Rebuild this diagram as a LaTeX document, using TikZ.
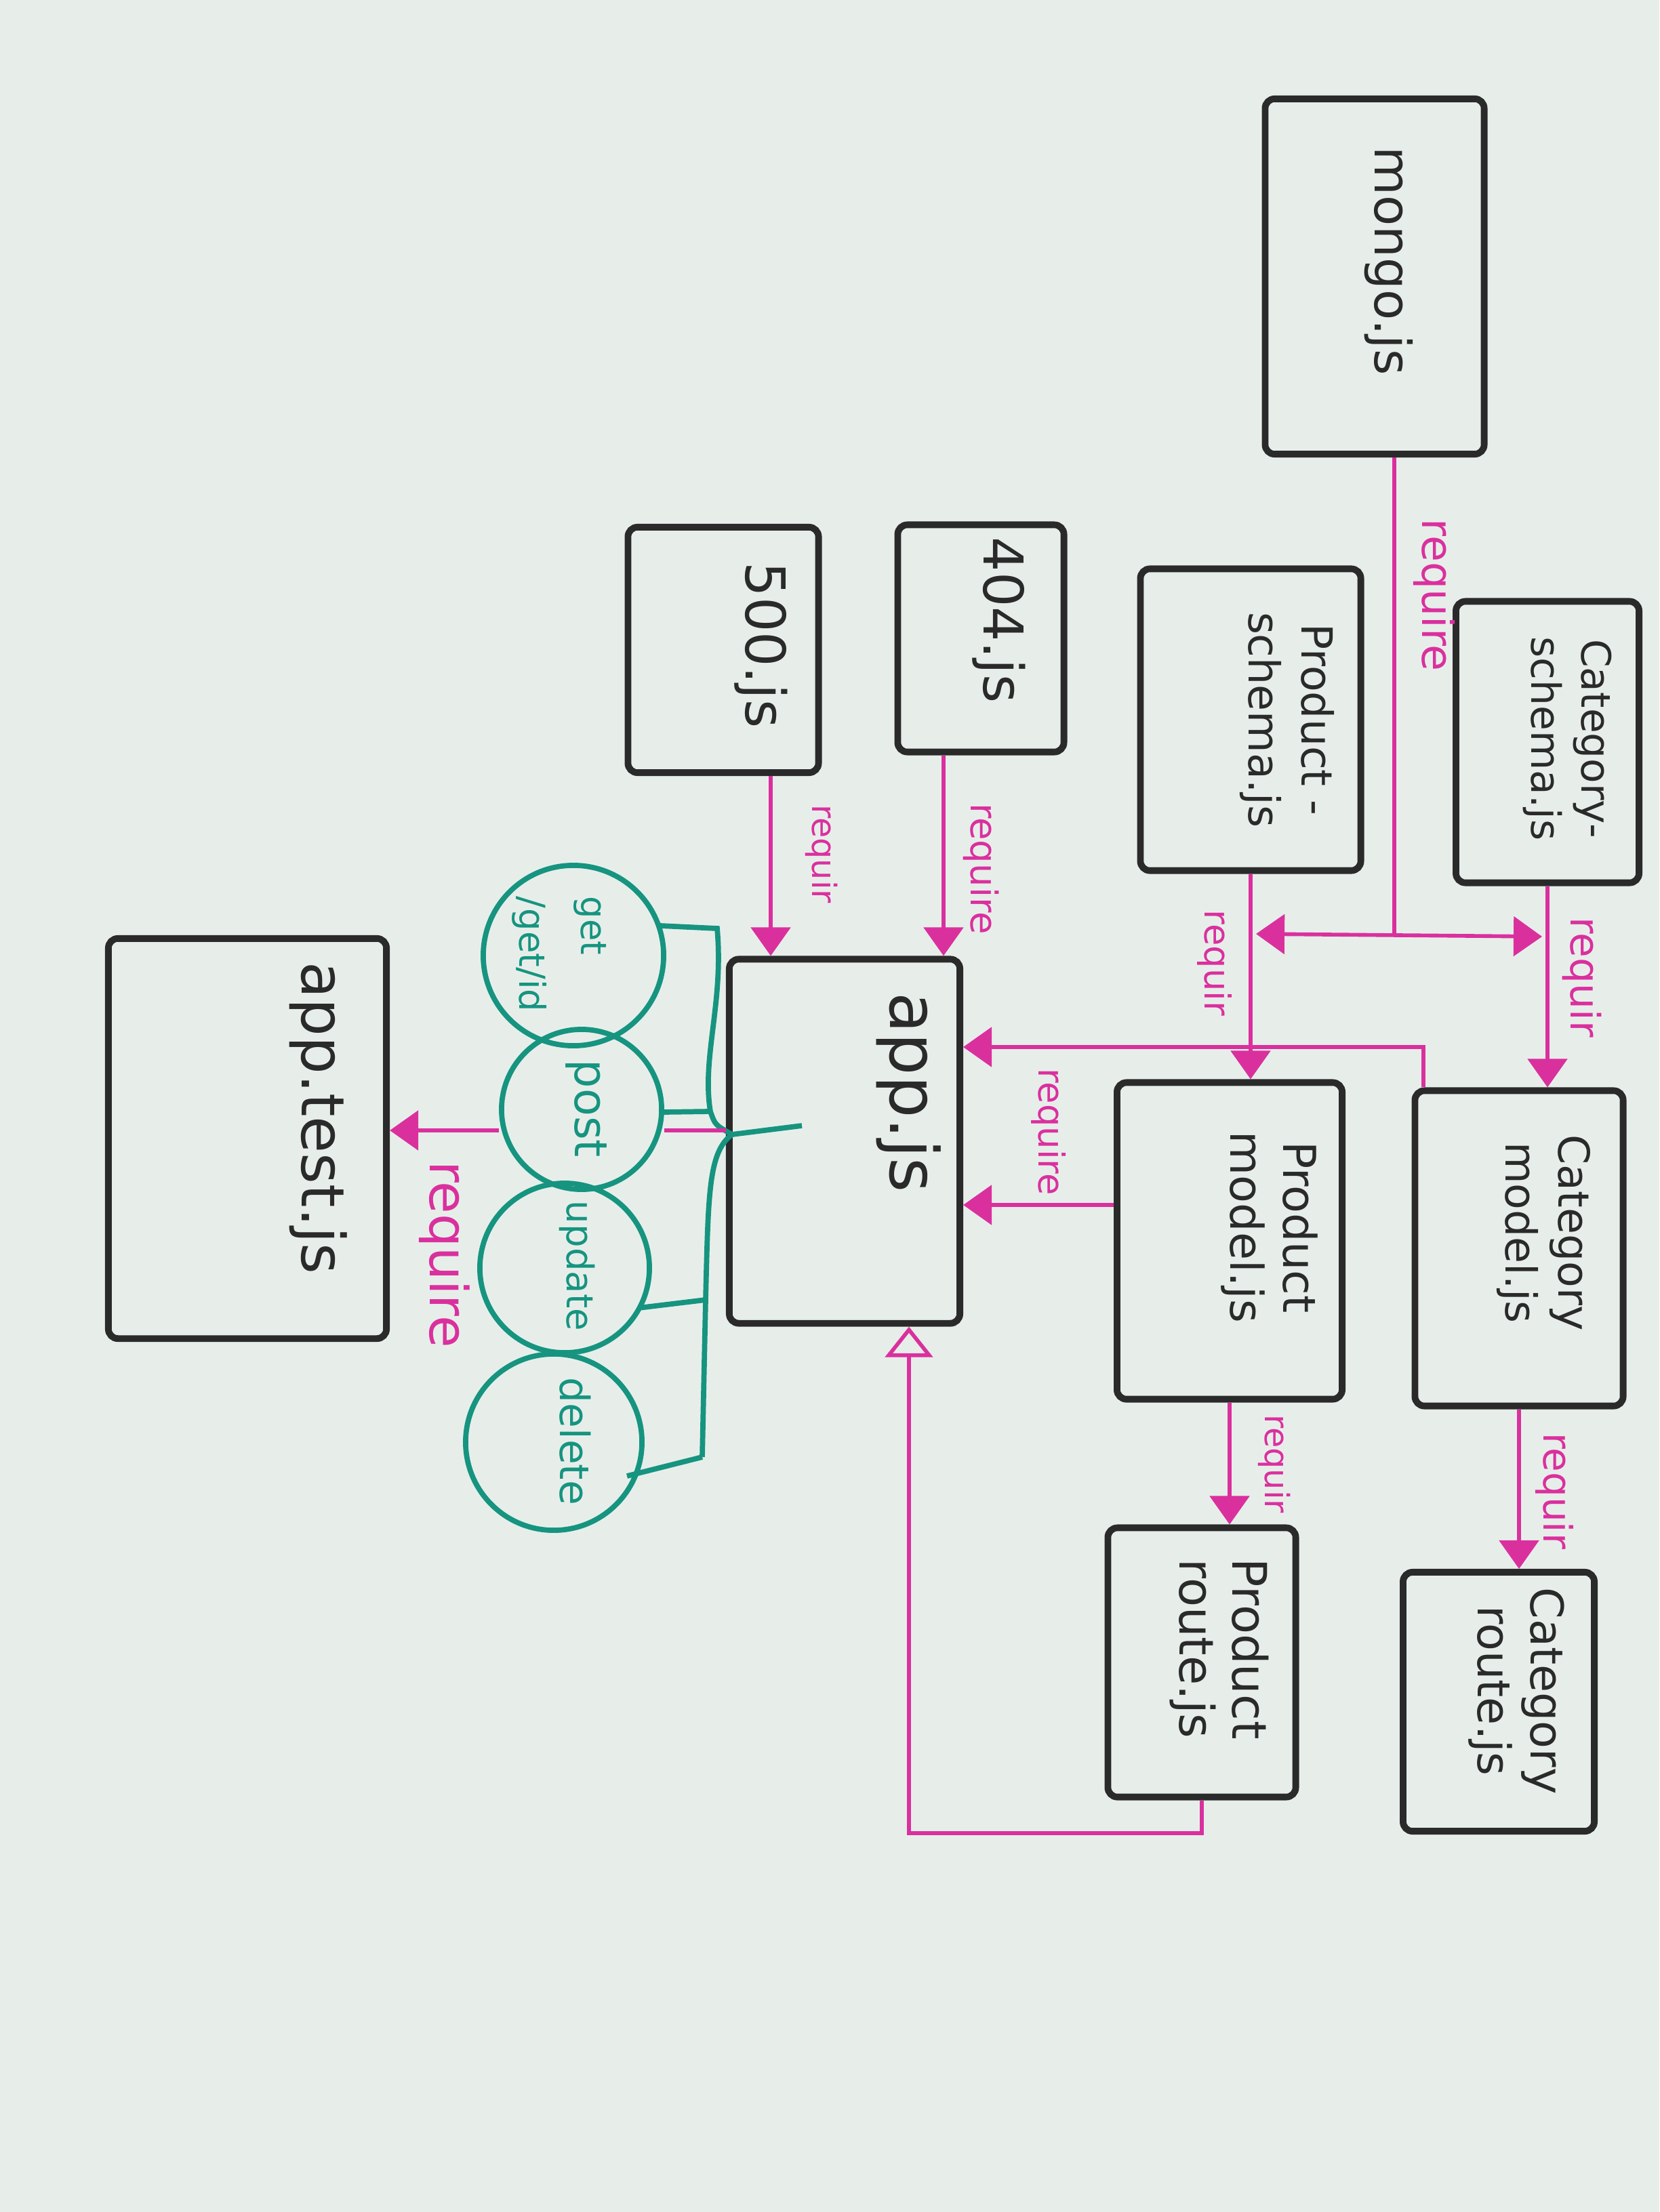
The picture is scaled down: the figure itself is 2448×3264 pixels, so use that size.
\documentclass[tikz,border=0pt]{standalone}
\usepackage{fontspec}
\setmainfont{DejaVu Sans}
\usetikzlibrary{arrows.meta}
\definecolor{ink}{RGB}{42,42,42}
\definecolor{mag}{RGB}{218,48,158}
\definecolor{tealink}{RGB}{22,148,128}
\definecolor{paper}{RGB}{231,238,234}
\newcommand{\rottext}[1]{\rotatebox{-90}{\begin{tabular}{@{}c@{}}#1\end{tabular}}}
\newcommand{\rottextl}[1]{\rotatebox{-90}{\begin{tabular}{@{}l@{}}#1\end{tabular}}}
\tikzset{
  filebox/.style={draw=ink, line width=2.8pt, rounded corners=4pt, inner sep=0pt},
  filetxt/.style={text=ink, inner sep=0pt},
  reqtxt/.style={text=mag, inner sep=0pt},
  reqline/.style={draw=mag, line width=1.6pt},
  reqarrow/.style={reqline, -{Triangle[length=0.42cm,width=0.58cm]}},
  reqopen/.style={reqline, -{Triangle[open,length=0.45cm,width=0.7cm,line width=1.6pt]}},
  bubble/.style={draw=tealink, line width=2.2pt, circle, inner sep=0pt},
  bubtxt/.style={text=tealink, inner sep=0pt},
  wire/.style={draw=tealink, line width=2.2pt},
}
\begin{document}
\begin{tikzpicture}[x=0.01cm,y=-0.01cm]
\fill[paper] (0,0) rectangle (2448,3264);
\useasboundingbox (0,0) rectangle (2448,3264);

% file boxes
\node[filebox, minimum width=3.23cm, minimum height=5.24cm] (mongo) at (2028,408) {};
\node[filebox, minimum width=2.70cm, minimum height=4.15cm] (catschema) at (2283,1095) {};
\node[filebox, minimum width=3.25cm, minimum height=4.45cm] (prodschema) at (1845,1062) {};
\node[filebox, minimum width=2.45cm, minimum height=3.35cm] (e404) at (1447,942) {};
\node[filebox, minimum width=2.81cm, minimum height=3.62cm] (e500) at (1067,959) {};
\node[filebox, minimum width=3.40cm, minimum height=5.37cm] (app) at (1246,1684) {};
\node[filebox, minimum width=3.32cm, minimum height=4.67cm] (prodmodel) at (1814,1831) {};
\node[filebox, minimum width=3.07cm, minimum height=4.65cm] (catmodel) at (2241,1842) {};
\node[filebox, minimum width=2.77cm, minimum height=3.97cm] (prodroute) at (1773,2453) {};
\node[filebox, minimum width=2.82cm, minimum height=3.82cm] (catroute) at (2211,2511) {};
\node[filebox, minimum width=4.10cm, minimum height=5.90cm] (apptest) at (365,1680) {};

% file names
\node[filetxt, font=\fontsize{21}{24}\selectfont] (mongo-t) at (2045,385) {\rottext{mongo.js}};
\node[filetxt, font=\fontsize{17}{21}\selectfont] (catschema-t) at (2311,1090) {\rottext{Category-\\schema.js}};
\node[filetxt, font=\fontsize{18}{22}\selectfont] (prodschema-t) at (1897,1062) {\rottext{Product -\\schema.js}};
\node[filetxt, font=\fontsize{23}{26}\selectfont] (e404-t) at (1470,915) {\rottext{404.js}};
\node[filetxt, font=\fontsize{23}{26}\selectfont] (e500-t) at (1119,952) {\rottext{500.js}};
\node[filetxt, font=\fontsize{28}{30}\selectfont] (app-t) at (1335,1612) {\rottext{app.js}};
\node[filetxt, font=\fontsize{19}{22}\selectfont] (prodmodel-t) at (1870,1811) {\rottext{Product\\model.js}};
\node[filetxt, font=\fontsize{18}{22}\selectfont] (catmodel-t) at (2276,1819) {\rottext{Category\\model.js}};
\node[filetxt, font=\fontsize{20}{22}\selectfont] (prodroute-t) at (1795,2433) {\rottext{Product\\route.js}};
\node[filetxt, font=\fontsize{19}{22}\selectfont] (catroute-t) at (2235,2495) {\rottext{Category\\route.js}};
\node[filetxt, font=\fontsize{25}{28}\selectfont] (apptest-t) at (465,1650) {\rottext{app.test.js}};

% route bubbles
\node[bubble, minimum size=2.66cm] (get) at (846,1410) {};
\node[bubble, minimum size=2.36cm] (post) at (858,1637) {};
\node[bubble, minimum size=2.50cm] (update) at (833,1871) {};
\node[bubble, minimum size=2.60cm] (delete) at (817,2128) {};
\node[bubtxt, font=\fontsize{15}{26}\selectfont] (get-t) at (830,1408) {\rottextl{get\\/get/id}};
\node[bubtxt, font=\fontsize{19}{22}\selectfont] (post-t) at (864,1636) {\rottext{post}};
\node[bubtxt, font=\fontsize{15.5}{20}\selectfont] (update-t) at (851,1868) {\rottext{update}};
\node[bubtxt, font=\fontsize{17}{20}\selectfont] (delete-t) at (841,2127) {\rottext{delete}};

% teal wiring from the bubbles into app.js
\coordinate (wg) at (974,1366);
\coordinate (ws1) at (1058,1370);
\coordinate (ws2) at (1048,1640);
\coordinate (wp) at (978,1641);
\coordinate (wj) at (1080,1674);
\coordinate (wa) at (1183,1661);
\coordinate (ws3) at (1041,1918);
\coordinate (wu) at (942,1930);
\coordinate (ws4) at (1036,2150);
\coordinate (wd) at (925,2178);
\draw[wire] (wg) -- (ws1) .. controls (1068,1480) and (1035,1560) .. (ws2) .. controls (1055,1660) .. (wj) -- (wa);
\draw[wire] (wj) .. controls (1045,1700) and (1045,1760) .. (ws3) -- (ws4);
\draw[wire] (wp) -- (ws2);
\draw[wire] (wu) -- (ws3);
\draw[wire] (wd) -- (ws4);

% require labels
\node[reqtxt, font=\fontsize{18}{20}\selectfont] (l-mongo) at (2113,878) {\rottext{require}};
\node[reqtxt, font=\fontsize{17}{20}\selectfont] (l-cs) at (2332,1442) {\rottext{requir}};
\node[reqtxt, font=\fontsize{15}{18}\selectfont] (l-ps) at (1790,1421) {\rottext{requir}};
\node[reqtxt, font=\fontsize{15.5}{18}\selectfont] (l-404) at (1445,1282) {\rottext{require}};
\node[reqtxt, font=\fontsize{14}{16}\selectfont] (l-500) at (1210,1260) {\rottext{requir}};
\node[reqtxt, font=\fontsize{15}{18}\selectfont] (l-pm) at (1545,1670) {\rottext{require}};
\node[reqtxt, font=\fontsize{14}{16}\selectfont] (l-pr) at (1878,2160) {\rottext{requir}};
\node[reqtxt, font=\fontsize{16.5}{18}\selectfont] (l-cr) at (2290,2200) {\rottext{requir}};
\node[reqtxt, font=\fontsize{22}{24}\selectfont] (l-test) at (651,1851) {\rottext{require}};

% require connectors
\coordinate (mj) at (2057,1378);
\coordinate (mjl) at (1853,1378);
\coordinate (mjr) at (2275,1382);
\draw[reqline] (mj |- mongo.south) -- (mj);
\draw[reqline, {Triangle[length=0.42cm,width=0.58cm]}-{Triangle[length=0.42cm,width=0.58cm]}] (mjl) -- (mjr);
\draw[reqarrow] (catschema.south) -- (catschema.south |- catmodel.north);
\draw[reqarrow] (prodschema.south) -- (prodschema.south |- prodmodel.north);
\coordinate (cmk) at (2100,1545);
\draw[reqarrow] (cmk |- catmodel.north) -- (cmk) -- (app.east |- cmk);
\coordinate (pmk) at (1600,1778);
\draw[reqarrow] (prodmodel.west |- pmk) -- (app.east |- pmk);
\draw[reqarrow] ([xshift=-0.55cm]e404.south) -- ([xshift=-0.55cm]e404.south |- app.north);
\draw[reqarrow] ([xshift=0.7cm]e500.south) -- ([xshift=0.7cm]e500.south |- app.north);
\draw[reqarrow] (prodmodel.south) -- (prodmodel.south |- prodroute.north);
\draw[reqarrow] (catmodel.south) -- (catmodel.south |- catroute.north);
\coordinate (prk) at (1341,2705);
\draw[reqopen] (prodroute.south) |- (prk) -- (prk |- app.south);
\coordinate (tk) at (0,1668);
\draw[reqline] (app.west |- tk) -- (post.east |- tk);
\draw[reqarrow] (post.west |- tk) -- (apptest.east |- tk);
\end{tikzpicture}
\end{document}
